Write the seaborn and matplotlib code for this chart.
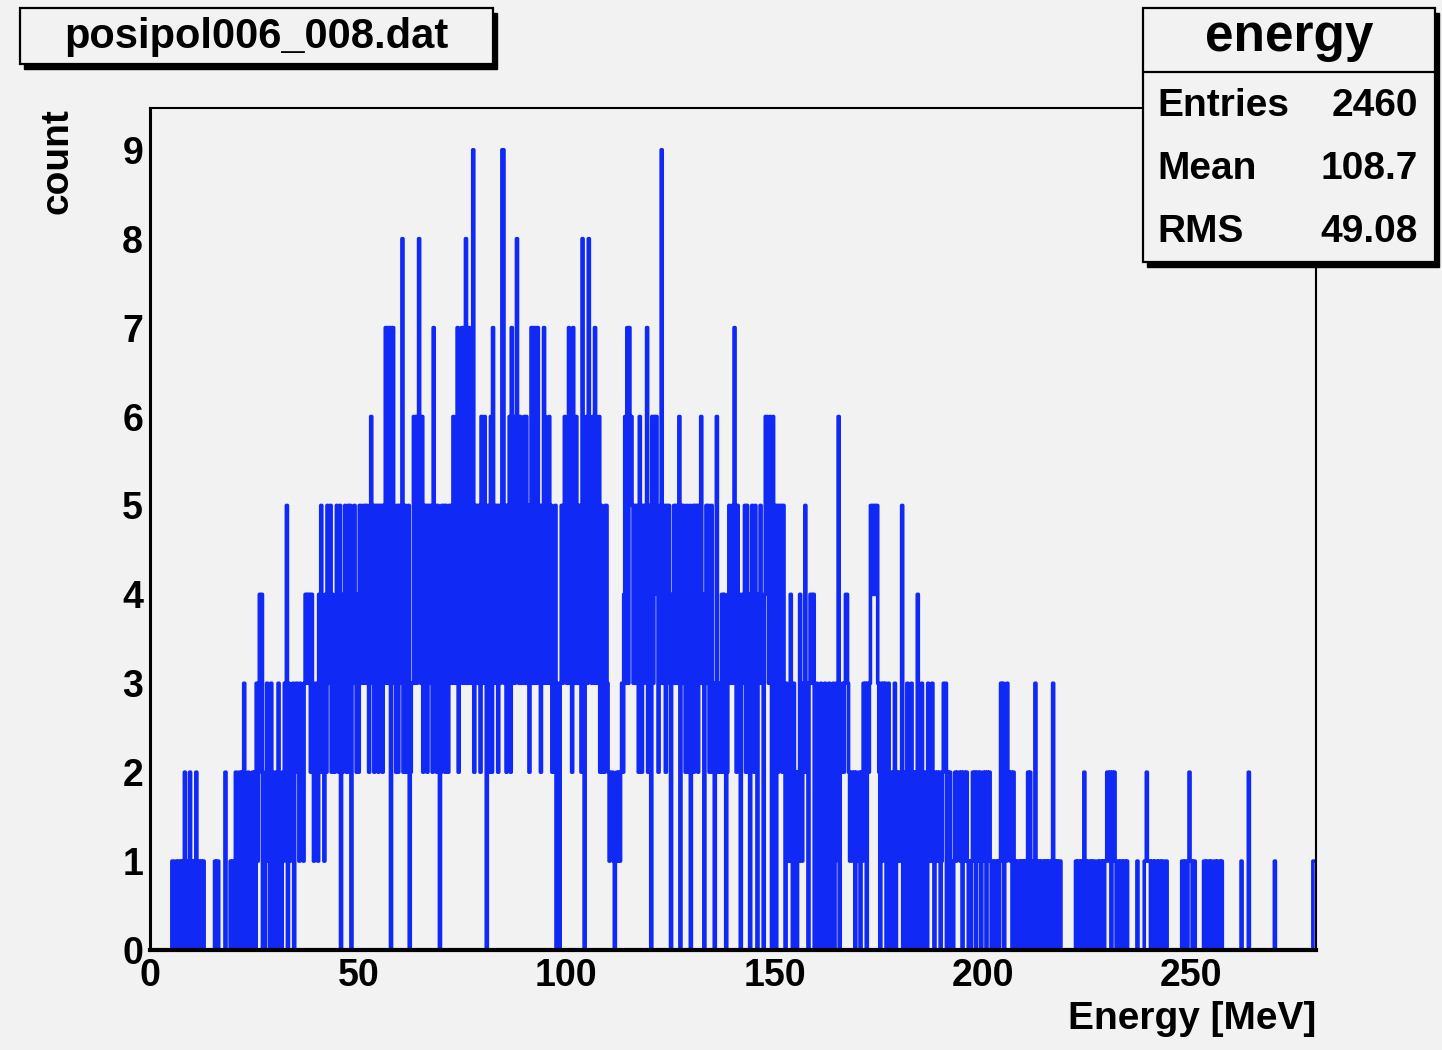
import numpy as np
import pandas as pd
import matplotlib
matplotlib.use("Agg")
import matplotlib.pyplot as plt
import seaborn as sns
from matplotlib.patches import Rectangle
from matplotlib.ticker import MultipleLocator

# ------------------------------------------------------------------
# Data: 0..280 MeV in 0.25 MeV bins,
# one string of 40 bin counts per 10 MeV
# ------------------------------------------------------------------
bin_width = 0.25
x_range = (0, 280)
counts_by_10mev = [
    "00000" "00000" "00000" "00000" "0" "1100101101012010120",                 # 0-10
    "1010" "2" "01101010" "000000000" "1011" "000000" "2" "0000" "101",        # 10-20
    "10201" "2202230" "10201021" "20312" "4340" "10231203201",                 # 20-30
    "20130102" "13250312" "2302332132213" "4343424" "3123",                    # 30-40
    "314252314253" "45243" "2353" "25024352" "45250435424",                    # 40-50
    "2553" "35535425635" "25352535253" "7737707753" "2525",                    # 50-60
    "3482" "25325023" "36363686362" "535253532" "73525302",                    # 60-70
    "535253" "2535364" "3572" "45737387375" "35925" "3535263",                 # 70-80
    "563052" "56273" "535253599" "35253627" "363686363536",                    # 80-90
    "363524" "7373737" "452537" "63536" "352325" "0320" "353565",              # 90-100
    "35735273" "36353528" "3046386" "53637" "35362524" "2553",                 # 100-110
    "21222" "10121" "212324" "6373766535" "353265" "2535" "4725",              # 110-120
    "506365642" "3593" "35253530" "4353535" "605353252450",                    # 120-130
    "35253525" "36340" "353524523" "03623" "3242420" "245345",                 # 130-140
    "375253" "4034" "3525240" "453" "25403" "453" "3046" "6536" "4063",        # 140-150
    "5052" "535253" "031214" "20312" "0214" "21325" "2303" "443401",           # 150-160
    "302130203120" "31023013" "3602" "23234432" "12212021",                    # 160-170
    "1202132" "303235" "545455" "3203132" "302301" "20130212",                 # 170-180
    "21502103" "12031202" "14021" "30122031213" "20212120",                    # 180-190
    "1233302120" "101212" "2212022121" "0101" "2120221201",                    # 190-200
    "2120212" "1010110101" "32302132" "2120201" "01101010",                    # 200-210
    "101202" "1011301" "0101101010110" "1301" "0101100000",                    # 210-220
    "00000000" "01011010" "1201" "0110101100101101" "0112",                    # 220-230
    "2120212101" "1011011010" "00000000" "10" "000001" "1211",                 # 230-240
    "10110111011011" "001" "00000000000000" "110110121",                       # 240-250
    "1011" "00000000" "110111010011011101" "0000000000",                       # 250-260
    "00000000" "10" "00000" "20" "00000" "00000" "00000" "00000" "000",        # 260-270
    "1" "00000" "00000" "00000" "00000" "00000" "00000" "00000" "0111",        # 270-280
]

hist_title = "posipol006_008.dat"
stats_name = "energy"
stats_rows = [("Entries", "2460"), ("Mean", "108.7"), ("RMS", "49.08")]
x_label = "Energy [MeV]"
y_label = "count"

assert all(len(s) == 40 for s in counts_by_10mev), [len(s) for s in counts_by_10mev]
counts = [int(c) for s in counts_by_10mev for c in s]
n_bins = len(counts)
centers = x_range[0] + bin_width * (np.arange(n_bins) + 0.5)
df = pd.DataFrame({"energy": centers, "count": counts})

# ------------------------------------------------------------------
# Style
# ------------------------------------------------------------------
BG = "#f2f2f2"
LINE = "#1029f5"
sns.set_style("white")
plt.rcParams["font.family"] = ["Liberation Sans", "DejaVu Sans"]
plt.rcParams["font.weight"] = "bold"
plt.rcParams["text.color"] = "black"
plt.rcParams["axes.labelcolor"] = "black"
plt.rcParams["xtick.color"] = "black"
plt.rcParams["ytick.color"] = "black"
plt.rcParams["path.simplify"] = False  # keep every bin edge of the dense step line

W, H = 1442, 1050
fig = plt.figure(figsize=(W / 100, H / 100), dpi=100, facecolor=BG)
ax = fig.add_axes([150 / W, 1 - 950 / H, (1316 - 150) / W, (950 - 108) / H])
ax.set_facecolor(BG)

# seaborn 0.13 chokes on an explicit edge array together with weights,
# so give it the bin count and range instead (same edges)
sns.histplot(
    data=df,
    x="energy",
    weights="count",
    bins=n_bins,
    binrange=x_range,
    element="step",
    fill=False,
    color=LINE,
    linewidth=2.6,
    ax=ax,
)

ax.set_xlim(*x_range)
ax.set_ylim(0, 9.47)
ax.xaxis.set_major_locator(MultipleLocator(50))
ax.xaxis.set_minor_locator(MultipleLocator(10))
ax.yaxis.set_major_locator(MultipleLocator(1))
ax.yaxis.set_minor_locator(MultipleLocator(0.2))

ax.tick_params(axis="both", which="both", direction="in", colors="black",
               labelsize=27, top=False, right=False)
ax.tick_params(axis="y", which="major", length=26, width=1.5, pad=5)
ax.tick_params(axis="y", which="minor", length=14, width=1.3)
ax.tick_params(axis="x", which="major", length=18, width=1.5, pad=6)
ax.tick_params(axis="x", which="minor", length=9, width=1.3)
for lab in ax.get_xticklabels() + ax.get_yticklabels():
    lab.set_fontweight("bold")

ax.spines["left"].set_linewidth(2.2)
ax.spines["bottom"].set_linewidth(3.0)
for side in ["top", "right"]:
    ax.spines[side].set_linewidth(1.5)
for sp in ax.spines.values():
    sp.set_color("black")
    sp.set_visible(True)
    sp.set_zorder(3)

ax.set_xlabel(x_label, fontsize=28, fontweight="bold", loc="right", color="black")
ax.xaxis.set_label_coords(1.0, -0.06)
ax.set_ylabel(y_label, fontsize=28, fontweight="bold", loc="top", color="black")
ax.yaxis.set_label_coords(-0.064, 1.0)

# ------------------------------------------------------------------
# Title box and stats box, drawn in pixel coordinates on an overlay
# ------------------------------------------------------------------
ov = fig.add_axes([0, 0, 1, 1], zorder=5)
ov.set_xlim(0, W)
ov.set_ylim(H, 0)
ov.axis("off")
ov.patch.set_alpha(0)


def shadow_box(x, y, w, h):
    ov.add_patch(Rectangle((x + 4, y + 5), w, h, fc="black", ec="black", lw=1))
    ov.add_patch(Rectangle((x, y), w, h, fc=BG, ec="black", lw=1.6))


shadow_box(20, 8, 473, 56)
ov.text(256, 37, hist_title, fontsize=30, fontweight="bold", ha="center", va="center")

shadow_box(1143, 8, 292, 254)
ov.plot([1143, 1435], [72, 72], color="black", lw=1.6)
ov.text(1289, 38, stats_name, fontsize=37, fontweight="bold", ha="center", va="center")
for i, (name, val) in enumerate(stats_rows):
    yy = 106 + i * 63
    ov.text(1157, yy, name, fontsize=28, fontweight="bold", ha="left", va="center")
    ov.text(1418, yy, val, fontsize=28, fontweight="bold", ha="right", va="center")

fig.savefig("out.png", dpi=100, facecolor=BG)
